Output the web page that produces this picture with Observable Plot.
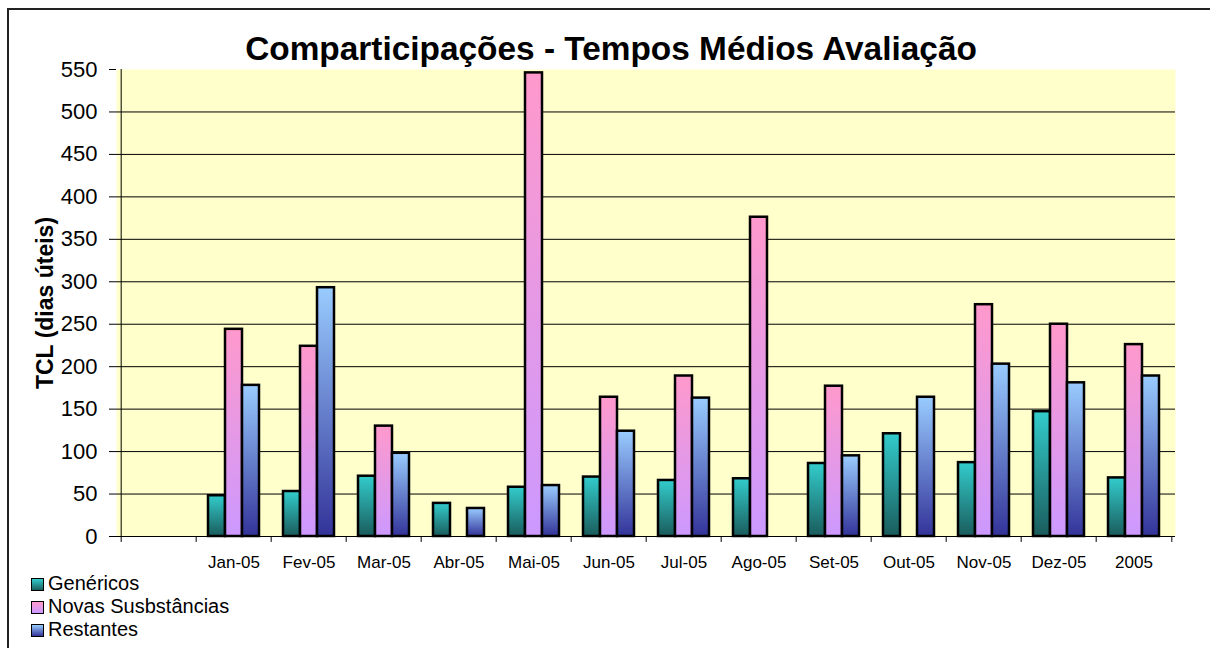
<!DOCTYPE html>
<html>
<head>
<meta charset="utf-8">
<script src="https://cdn.jsdelivr.net/npm/d3@7"></script>
<script src="https://cdn.jsdelivr.net/npm/@observablehq/plot@0.6"></script>
<style>
  html, body { margin: 0; padding: 0; background: #fff; overflow: hidden; }
  body { width: 1210px; height: 648px; position: relative; font-family: "Liberation Sans", Arial, sans-serif; }
  #border { position: absolute; left: 7px; top: 8px; width: 1400px; height: 900px; border-left: 2px solid #222; border-top: 2px solid #222; }
  #chart { position: absolute; left: 0; top: 0; }
  #title { position: absolute; left: 6px; top: 33px; width: 1210px; text-align: center; font-size: 33.4px; font-weight: bold; line-height: 32px; color: #000; white-space: nowrap; }
  .leg { position: absolute; left: 31px; height: 23px; line-height: 23px; font-size: 20px; color: #000; white-space: nowrap; }
  .sw { display: inline-block; width: 11px; height: 11px; border: 1.5px solid #000; margin-right: 4px; vertical-align: -1px; }
</style>
</head>
<body>
<div id="border"></div>
<div id="chart"></div>
<div id="title">Comparticipações - Tempos Médios Avaliação</div>
<div id="legend"></div>
<script>
// ---- data ----
const categories = ["", "Jan-05", "Fev-05", "Mar-05", "Abr-05", "Mai-05", "Jun-05", "Jul-05", "Ago-05", "Set-05", "Out-05", "Nov-05", "Dez-05", "2005"];
const seriesNames = ["Genéricos", "Novas Susbstâncias", "Restantes"];
const genericos = [null, 48, 53, 71, 39, 58, 70, 66, 68, 86, 121, 87, 147, 69];
const novas     = [null, 244, 224, 130, null, 546, 164, 189, 376, 177, null, 273, 250, 226];
const restantes = [null, 178, 293, 98, 33, 60, 124, 163, null, 95, 164, 203, 181, 189];
const yTicks = [0, 50, 100, 150, 200, 250, 300, 350, 400, 450, 500, 550];
const yLabel = "TCL (dias úteis)";

const gradients = [
  {id: "gGen", top: "#33CCCC", bottom: "#1a5c5c"},
  {id: "gNov", top: "#FF99CC", bottom: "#CC99FF"},
  {id: "gRes", top: "#99CCFF", bottom: "#333399"}
];

const W = 1210, H = 648, mL = 116, mR = 35, mT = 69, mB = 112;
const step = (W - mL - mR) / categories.length;
const barW = 17;
const pInner = 1 - barW / step;

const toRows = (vals) => categories.map((c, i) => ({cat: c, v: vals[i]})).filter(d => d.v != null);
const seriesData = [toRows(genericos), toRows(novas), toRows(restantes)];

const svg = Plot.plot({
  width: W, height: H,
  marginLeft: mL, marginRight: mR, marginTop: mT, marginBottom: mB,
  style: {fontFamily: "'Liberation Sans', Arial, sans-serif", color: "#000", background: "transparent"},
  x: {domain: categories, paddingInner: pInner, paddingOuter: pInner / 2, align: 0.5},
  y: {domain: [0, 550]},
  marks: [
    Plot.frame({fill: "#FFFFCC", stroke: "none"}),
    Plot.ruleY(yTicks.filter(t => t > 0 && t < 550), {stroke: "#000", strokeWidth: 1}),
    ...seriesData.map((data, k) => Plot.barY(data, {
      x: "cat", y: "v", dx: (k - 1) * barW,
      fill: `url(#${gradients[k].id})`, stroke: "#000", strokeWidth: 2.5
    })),
    Plot.ruleY([0], {stroke: "#000", strokeWidth: 1}),
    Plot.ruleX([categories[0]], {x: d => d, dx: -step / 2, y1: 0, y2: 550, stroke: "#000", strokeWidth: 1}),
    Plot.ruleX(categories, {x: d => d, dx: -step / 2, y1: 0, y2: -7, stroke: "#000"}),
    Plot.ruleX([categories[categories.length - 1]], {x: d => d, dx: step / 2, y1: 0, y2: -7, stroke: "#000"}),
    Plot.axisX({tickSize: 0, tickPadding: 19, fontSize: 17, label: null}),
    Plot.axisY({ticks: yTicks, tickSize: 7, tickPadding: 12, fontSize: 22, label: null}),
    Plot.text([yLabel], {text: d => d, frameAnchor: "left", textAnchor: "middle", dx: -71, rotate: -90, fontSize: 23, fontWeight: "bold", fill: "#000"})
  ]
});

const defs = d3.select(svg).insert("defs", ":first-child");
gradients.forEach(g => {
  const lg = defs.append("linearGradient").attr("id", g.id).attr("x1", 0).attr("y1", 0).attr("x2", 0).attr("y2", 1);
  lg.append("stop").attr("offset", "0%").attr("stop-color", g.top);
  lg.append("stop").attr("offset", "100%").attr("stop-color", g.bottom);
});
document.getElementById("chart").appendChild(svg);

// legend
const legend = document.getElementById("legend");
seriesNames.forEach((name, k) => {
  const row = document.createElement("div");
  row.className = "leg";
  row.style.top = (572 + k * 23) + "px";
  const sw = document.createElement("span");
  sw.className = "sw";
  sw.style.background = `linear-gradient(${gradients[k].top}, ${gradients[k].bottom})`;
  row.appendChild(sw);
  row.appendChild(document.createTextNode(name));
  legend.appendChild(row);
});
</script>
</body>
</html>
